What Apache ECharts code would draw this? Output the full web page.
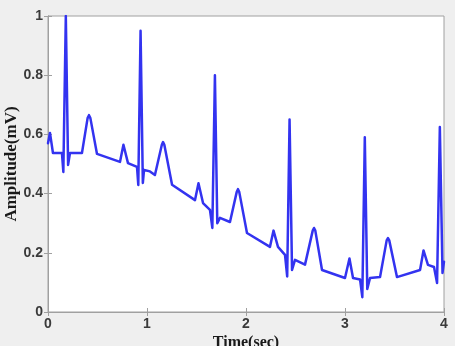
<!DOCTYPE html>
<html>
<head>
<meta charset="utf-8">
<script src="https://cdn.jsdelivr.net/npm/echarts@6/dist/echarts.min.js"></script>
<style>
html,body{margin:0;padding:0;background:#efefef;}
#c{width:455px;height:346px;}
</style>
</head>
<body>
<div id="c"></div>
<script>
// Time (sec) and amplitude (mV)
var timeSec = [0, 0.02, 0.05, 0.141, 0.155, 0.18, 0.203, 0.222, 0.343, 0.4, 0.414, 0.428, 0.495, 0.727, 0.762, 0.768, 0.775, 0.808, 0.899, 0.912, 0.935, 0.958, 0.97, 1.03, 1.08, 1.15, 1.162, 1.175, 1.253, 1.485, 1.52, 1.525, 1.531, 1.566, 1.636, 1.66, 1.686, 1.71, 1.737, 1.838, 1.906, 1.919, 1.932, 2.01, 2.242, 2.278, 2.283, 2.289, 2.323, 2.394, 2.416, 2.44, 2.465, 2.495, 2.596, 2.674, 2.687, 2.7, 2.768, 3.0, 3.045, 3.05, 3.056, 3.081, 3.152, 3.175, 3.2, 3.225, 3.253, 3.354, 3.421, 3.434, 3.447, 3.525, 3.758, 3.793, 3.798, 3.804, 3.838, 3.899, 3.93, 3.958, 3.985, 4.0];
var amplitude = [0.57, 0.605, 0.537, 0.537, 0.473, 1.0, 0.497, 0.537, 0.537, 0.655, 0.665, 0.655, 0.534, 0.507, 0.565, 0.571, 0.565, 0.503, 0.49, 0.429, 0.95, 0.436, 0.48, 0.475, 0.463, 0.565, 0.574, 0.565, 0.43, 0.378, 0.435, 0.44, 0.435, 0.368, 0.345, 0.284, 0.80, 0.30, 0.318, 0.304, 0.405, 0.415, 0.405, 0.267, 0.22, 0.275, 0.28, 0.275, 0.22, 0.193, 0.12, 0.65, 0.142, 0.176, 0.16, 0.275, 0.284, 0.275, 0.142, 0.115, 0.181, 0.186, 0.181, 0.115, 0.11, 0.05, 0.59, 0.078, 0.115, 0.118, 0.242, 0.25, 0.242, 0.118, 0.142, 0.208, 0.213, 0.208, 0.159, 0.152, 0.098, 0.625, 0.132, 0.17];
var xTicks = [0, 1, 2, 3, 4];
var yTicks = [0, 0.2, 0.4, 0.6, 0.8, 1];

var pts = timeSec.map(function (t, i) { return [t, amplitude[i]]; });
var chart = echarts.init(document.getElementById('c'), null, {renderer: 'canvas'});
var labelFont = {fontFamily: 'Liberation Sans, Arial, sans-serif', fontSize: 14, color: '#3a3a3a', fontWeight: 'bold'};
chart.setOption({
  backgroundColor: '#efefef',
  animation: false,
  grid: {left: 48, right: 11, top: 16, bottom: 34, containLabel: false, outerBoundsMode: 'none', show: true, backgroundColor: '#ffffff', borderColor: '#a0a0a0', borderWidth: 1},
  xAxis: [{
    type: 'value', min: 0, max: 4, interval: 1,
    axisLine: {show: true, lineStyle: {color: '#a0a0a0'}},
    axisTick: {show: true, inside: true, length: 4, lineStyle: {color: '#a0a0a0'}},
    axisLabel: Object.assign({margin: 5, formatter: function (v) { return xTicks.indexOf(v) >= 0 ? String(v) : ''; }}, labelFont),
    splitLine: {show: false},
    name: 'Time(sec)', nameLocation: 'middle', nameGap: 23, nameMoveOverlap: false,
    nameTextStyle: {fontFamily: 'Liberation Serif, Times New Roman, serif', fontWeight: 'bold', fontSize: 16, color: '#1a1a1a'}
  }, {
    type: 'value', min: 0, max: 4, interval: 1, position: 'top',
    axisLine: {show: true, lineStyle: {color: '#a0a0a0'}},
    axisTick: {show: true, inside: true, length: 4, lineStyle: {color: '#a0a0a0'}},
    axisLabel: {show: false}, splitLine: {show: false}
  }],
  yAxis: [{
    type: 'value', min: 0, max: 1, interval: 0.2,
    axisLine: {show: true, lineStyle: {color: '#a0a0a0'}},
    axisTick: {show: true, inside: true, length: 4, lineStyle: {color: '#a0a0a0'}},
    axisLabel: Object.assign({margin: 5, formatter: function (v) { var r = Math.round(v * 10) / 10; return yTicks.indexOf(r) >= 0 ? String(r) : ''; }}, labelFont),
    splitLine: {show: false},
    name: 'Amplitude(mV)', nameLocation: 'middle', nameGap: 28, nameRotate: 90, nameMoveOverlap: false,
    nameTextStyle: {fontFamily: 'Liberation Serif, Times New Roman, serif', fontWeight: 'bold', fontSize: 17, color: '#1a1a1a'}
  }, {
    type: 'value', min: 0, max: 1, interval: 0.2, position: 'right',
    axisLine: {show: true, lineStyle: {color: '#a0a0a0'}},
    axisTick: {show: true, inside: true, length: 4, lineStyle: {color: '#a0a0a0'}},
    axisLabel: {show: false}, splitLine: {show: false}
  }],
  series: [{
    type: 'line', xAxisIndex: 0, yAxisIndex: 0,
    data: pts, showSymbol: false, symbol: 'none',
    lineStyle: {color: '#3333f0', width: 2.5, join: 'round', cap: 'round'},
    clip: true
  }]
});
</script>
</body>
</html>
